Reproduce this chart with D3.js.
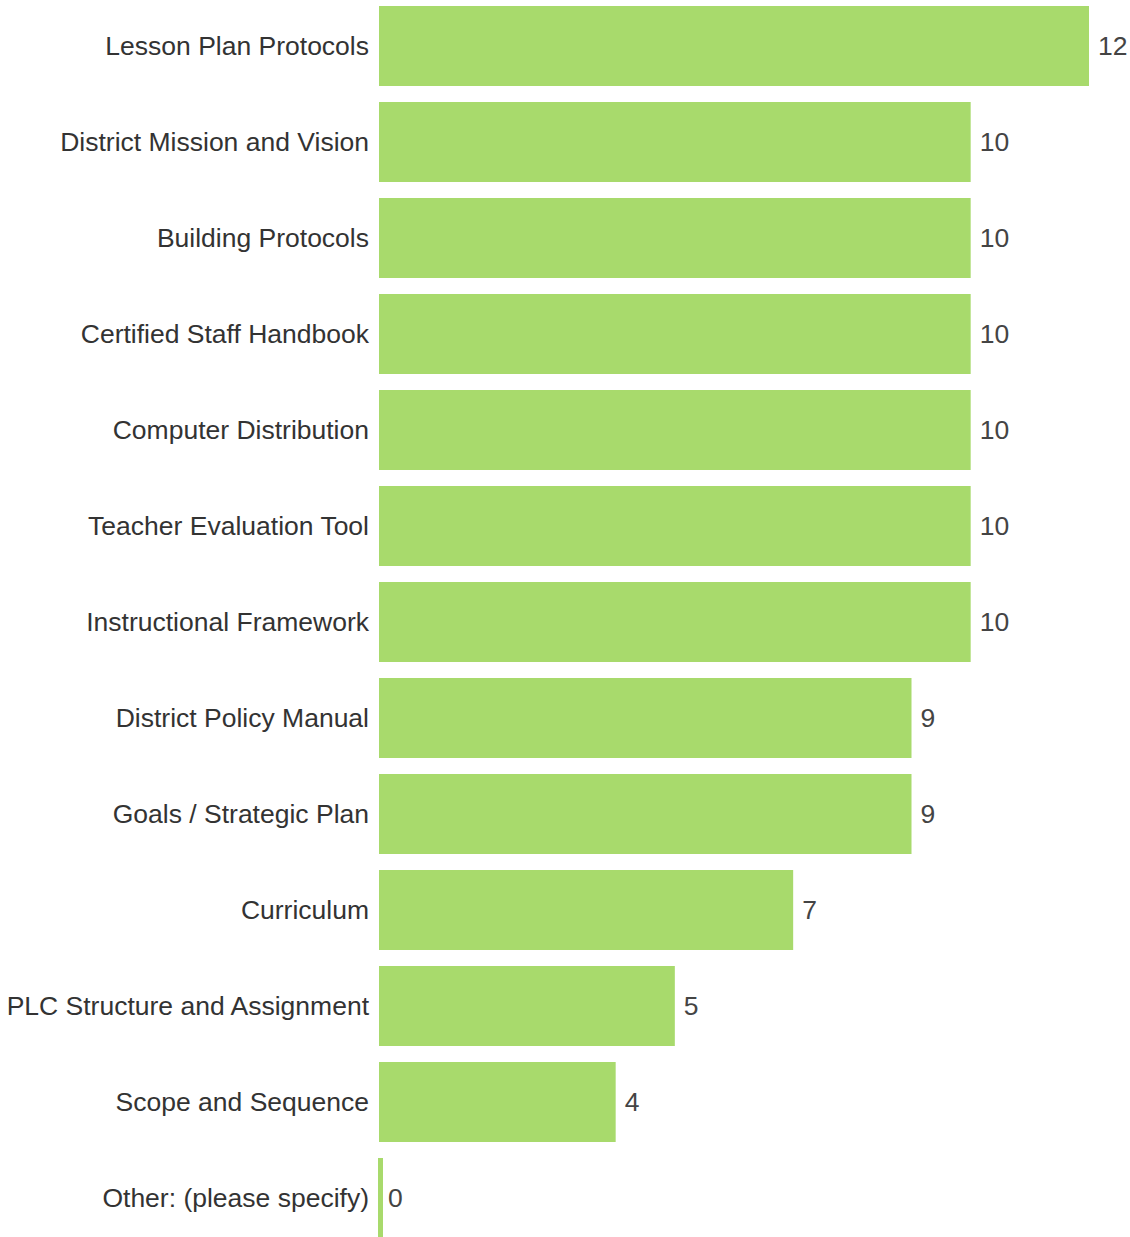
<!DOCTYPE html>
<html>
<head>
<meta charset="utf-8">
<script src="https://cdn.jsdelivr.net/npm/d3@7"></script>
<style>
  html, body { margin: 0; padding: 0; background: #fff; }
  svg { display: block; }
</style>
</head>
<body>
<svg id="chart" width="1130" height="1237"></svg>
<script>
const categories = [
  "Lesson Plan Protocols",
  "District Mission and Vision",
  "Building Protocols",
  "Certified Staff Handbook",
  "Computer Distribution",
  "Teacher Evaluation Tool",
  "Instructional Framework",
  "District Policy Manual",
  "Goals / Strategic Plan",
  "Curriculum",
  "PLC Structure and Assignment",
  "Scope and Sequence",
  "Other: (please specify)"
];
const values = [12, 10, 10, 10, 10, 10, 10, 9, 9, 7, 5, 4, 0];
const xDomain = [0, 12];

const svg = d3.select("#chart");
const x = d3.scaleLinear().domain(xDomain).range([379, 1089]);
const y = d3.scaleBand().domain(categories).range([-2, 1246])
  .paddingInner(1/6).paddingOuter(1/12);

const data = categories.map((c, i) => ({ c, v: values[i] }));
const barColor = "#a8da6c";
const fontFamily = "Liberation Sans, Arial, sans-serif";
const fontSize = 26.5;

svg.selectAll("rect.bar").data(data).enter().append("rect")
  .attr("class", "bar")
  .attr("x", d => d.v === 0 ? x(0) - 1 : x(0))
  .attr("y", d => y(d.c))
  .attr("width", d => Math.max(x(d.v) - x(0), 5))
  .attr("height", y.bandwidth())
  .attr("fill", barColor);

svg.selectAll("text.cat").data(data).enter().append("text")
  .attr("class", "cat")
  .attr("x", x(0) - 10)
  .attr("y", d => y(d.c) + y.bandwidth() / 2)
  .attr("dy", "0.35em")
  .attr("text-anchor", "end")
  .attr("font-family", fontFamily)
  .attr("font-size", fontSize)
  .attr("fill", "#333")
  .text(d => d.c);

svg.selectAll("text.val").data(data).enter().append("text")
  .attr("class", "val")
  .attr("x", d => x(d.v) + 9)
  .attr("y", d => y(d.c) + y.bandwidth() / 2)
  .attr("dy", "0.35em")
  .attr("text-anchor", "start")
  .attr("font-family", fontFamily)
  .attr("font-size", fontSize)
  .attr("fill", "#444")
  .text(d => d.v);
</script>
</body>
</html>
